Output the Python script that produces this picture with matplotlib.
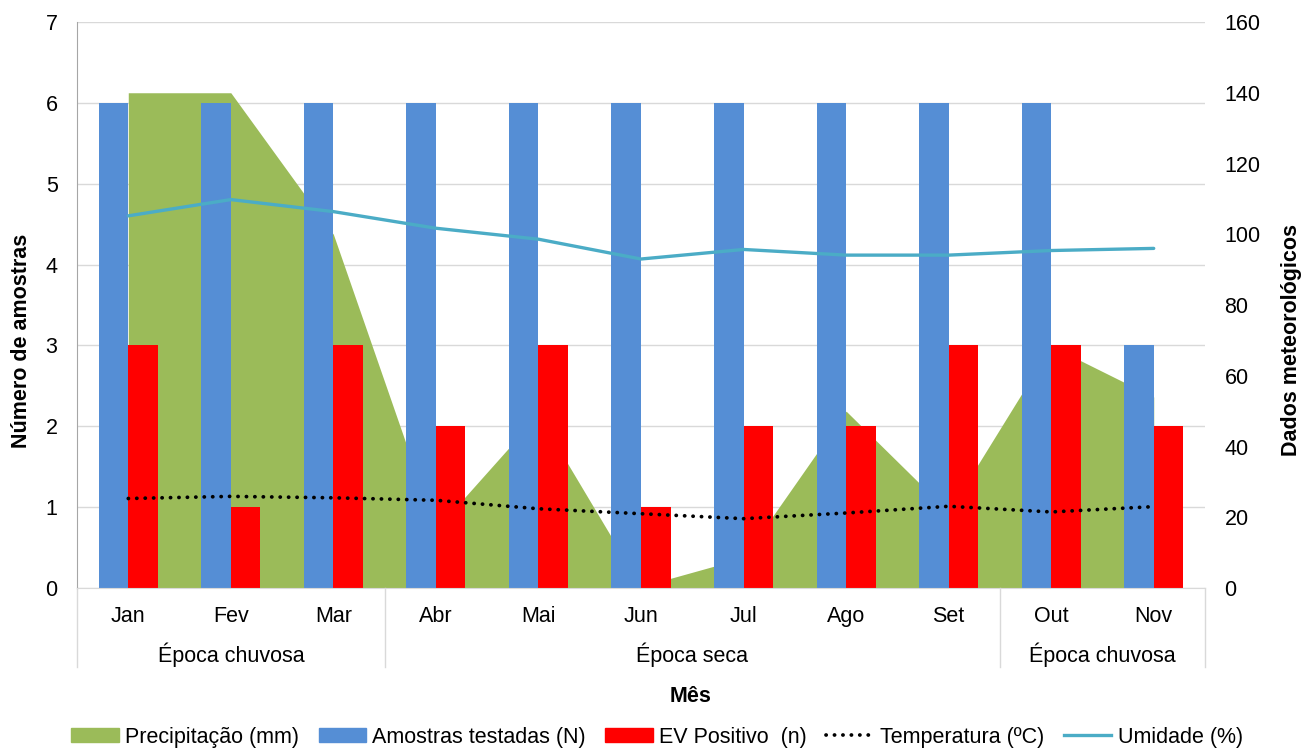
import matplotlib
matplotlib.use("Agg")
import matplotlib.pyplot as plt
import numpy as np
from matplotlib.patches import Patch
from matplotlib.lines import Line2D

plt.rcParams['font.family'] = ['Liberation Sans', 'DejaVu Sans']

# Monthly data
meses = ['Jan', 'Fev', 'Mar', 'Abr', 'Mai', 'Jun', 'Jul', 'Ago', 'Set', 'Out', 'Nov']
epocas = [('Época chuvosa', 0, 2), ('Época seca', 3, 8), ('Época chuvosa', 9, 10)]
amostras = [6, 6, 6, 6, 6, 6, 6, 6, 6, 6, 3]
ev_positivo = [3, 1, 3, 2, 3, 1, 2, 2, 3, 3, 2]
precipitacao = [140, 140, 100, 16.5, 49, 0.4, 8.5, 50, 21.5, 68.4, 54]
temperatura = [25.3, 25.9, 25.5, 24.8, 22.4, 21.0, 19.6, 21.2, 23.1, 21.5, 23.0]
umidade = [105.2, 109.8, 106.4, 101.7, 98.6, 93.0, 95.7, 94.1, 94.1, 95.4, 96.0]

c_prec = '#9BBB59'
c_amos = '#558ED5'
c_ev = '#FF0000'
c_umid = '#4BACC6'
c_grid = '#D9D9D9'
fs = 15.5

W, H = 1304, 748
fig = plt.figure(figsize=(W / 100, H / 100), dpi=100)
L, R, T, B = 77, 1205, 22, 588
ax = fig.add_axes([L / W, 1 - B / H, (R - L) / W, (B - T) / H])
ax2 = ax.twinx()

x = np.arange(len(meses))
bw = 0.288

ax2.set_ylim(0, 160)

# precipitation area sits under the bars but uses the right-hand scale
ax.fill_between(x, 0, precipitacao, color=c_prec, lw=0, zorder=1,
                transform=ax2.transData)
ax.bar(x - bw, amostras, bw, align='edge', color=c_amos, zorder=2)
ax.bar(x, ev_positivo, bw, align='edge', color=c_ev, zorder=2)
ax.set_xlim(-0.5, len(meses) - 0.5)
ax.set_ylim(0, 7)

temp_style = dict(color='black', lw=2.7, linestyle=(0, (0.05, 2.2)),
                  dash_capstyle='round')
ax2.plot(x, umidade, color=c_umid, lw=2.4, solid_capstyle='round', zorder=3)
ax2.plot(x, temperatura, zorder=3, **temp_style)

# grid and spines
ax.set_yticks(range(8))
ax.yaxis.grid(True, color=c_grid, lw=1)
ax.set_axisbelow(True)
for s in ['top', 'right']:
    ax.spines[s].set_visible(False)
for s in ['top', 'right', 'left', 'bottom']:
    ax2.spines[s].set_visible(False)
ax.spines['left'].set_color('#A6A6A6')
ax.spines['bottom'].set_color(c_grid)
ax.tick_params(axis='y', length=0, pad=14, labelsize=fs)
ax2.set_yticks(range(0, 161, 20))
ax2.tick_params(axis='y', length=0, pad=14, labelsize=fs)

# month labels and season groups
ax.set_xticks(x)
ax.set_xticklabels(meses, fontsize=fs)
ax.tick_params(axis='x', length=0, pad=13)
xt = ax.get_xaxis_transform()
axh = B - T
for nome, i0, i1 in epocas:
    ax.text((i0 + i1) / 2, -(655 - B) / axh, nome, transform=xt,
            ha='center', va='center', fontsize=fs)
for xs in [-0.5, 2.5, 8.5, 10.5]:
    ax.plot([xs, xs], [0, -(667 - B) / axh], transform=xt, color=c_grid,
            lw=1, clip_on=False)

fig.text(691 / W, 1 - 697 / H, 'Mês', ha='center', va='center',
         fontsize=fs, fontweight='bold')
fig.text(22 / W, 1 - 341 / H, 'Número de amostras', rotation=90,
         ha='center', va='center', fontsize=fs, fontweight='bold')
fig.text(1291 / W, 1 - 340 / H, 'Dados meteorológicos', rotation=90,
         ha='center', va='center', fontsize=fs, fontweight='bold')

handles = [
    Patch(color=c_prec, label='Precipitação (mm)'),
    Patch(color=c_amos, label='Amostras testadas (N)'),
    Patch(color=c_ev, label='EV Positivo  (n)'),
    Line2D([], [], label='Temperatura (ºC)', **temp_style),
    Line2D([], [], color=c_umid, lw=2.4, label='Umidade (%)'),
]
fig.legend(handles=handles, loc='center', bbox_to_anchor=(657 / W, 1 - 737 / H),
           ncol=5, frameon=False, fontsize=fs, handlelength=2.2,
           handleheight=0.6, handletextpad=0.3, columnspacing=0.9,
           borderaxespad=0, borderpad=0)

fig.savefig('out.png', dpi=100)
